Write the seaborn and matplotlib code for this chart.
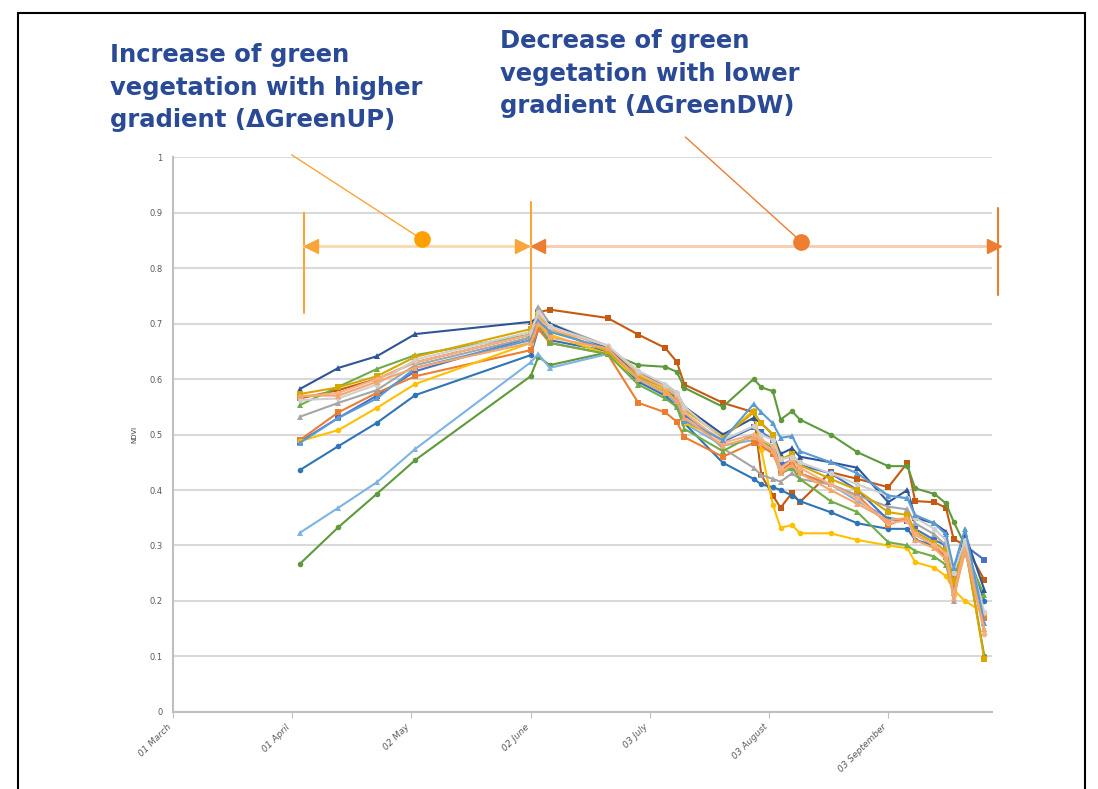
import numpy as np
import pandas as pd
import seaborn as sns
import matplotlib.pyplot as plt
import matplotlib.dates as mdates
from matplotlib.patches import Rectangle

# observation dates (shared by all series)
dates = ["2015-04-03", "2015-04-13", "2015-04-23", "2015-05-03", "2015-06-02", "2015-06-04",
         "2015-06-07", "2015-06-22", "2015-06-30", "2015-07-07", "2015-07-10", "2015-07-12",
         "2015-07-22", "2015-07-30", "2015-08-01", "2015-08-04", "2015-08-06", "2015-08-09",
         "2015-08-11", "2015-08-19", "2015-08-26", "2015-09-03", "2015-09-08", "2015-09-10",
         "2015-09-15", "2015-09-18", "2015-09-20", "2015-09-23", "2015-09-28"]

# NDVI per field
brown = [0.565, 0.58, 0.60, 0.63, 0.68, 0.72, 0.725, 0.71, 0.68, 0.656, 0.631, 0.59, 0.557, 0.54, 0.427,
         0.39, 0.368, 0.395, 0.378, 0.432, 0.42, 0.405, 0.449, 0.38, 0.378, 0.368, 0.312, 0.30, 0.238]
green_late = [0.267, 0.333, 0.393, 0.454, 0.605, 0.64, 0.625, 0.648, 0.625, 0.622, 0.613, 0.584, 0.55, 0.60, 0.585,
              0.578, 0.527, 0.542, 0.527, 0.50, 0.468, 0.443, 0.443, 0.403, 0.393, 0.376, 0.343, 0.30, 0.10]
lightblue = [0.323, 0.368, 0.414, 0.474, 0.63, 0.645, 0.62, 0.645, 0.60, 0.575, 0.555, 0.52, 0.48, 0.49, 0.475,
             0.47, 0.43, 0.44, 0.43, 0.41, 0.38, 0.35, 0.345, 0.32, 0.30, 0.28, 0.22, 0.29, 0.15]
medblue = [0.436, 0.479, 0.521, 0.571, 0.643, 0.69, 0.67, 0.65, 0.595, 0.57, 0.55, 0.52, 0.449, 0.42, 0.41,
           0.405, 0.40, 0.39, 0.38, 0.36, 0.34, 0.33, 0.33, 0.31, 0.30, 0.28, 0.23, 0.30, 0.20]
bluesq = [0.487, 0.53, 0.57, 0.614, 0.675, 0.70, 0.69, 0.65, 0.60, 0.58, 0.565, 0.535, 0.487, 0.513, 0.505,
          0.49, 0.445, 0.454, 0.445, 0.43, 0.40, 0.346, 0.345, 0.33, 0.31, 0.30, 0.26, 0.30, 0.274]
orange = [0.49, 0.54, 0.575, 0.605, 0.652, 0.69, 0.665, 0.645, 0.557, 0.54, 0.523, 0.495, 0.46, 0.485, 0.48,
          0.465, 0.435, 0.45, 0.43, 0.41, 0.39, 0.337, 0.35, 0.32, 0.30, 0.28, 0.23, 0.29, 0.17]
yellow = [0.488, 0.508, 0.548, 0.591, 0.665, 0.70, 0.68, 0.645, 0.60, 0.58, 0.56, 0.52, 0.494, 0.544, 0.472,
          0.373, 0.332, 0.337, 0.322, 0.322, 0.31, 0.30, 0.295, 0.27, 0.26, 0.245, 0.22, 0.20, 0.178]
gray = [0.532, 0.557, 0.58, 0.625, 0.675, 0.73, 0.70, 0.66, 0.603, 0.585, 0.57, 0.54, 0.475, 0.44, 0.427,
        0.42, 0.415, 0.43, 0.42, 0.41, 0.39, 0.37, 0.365, 0.34, 0.32, 0.30, 0.20, 0.31, 0.16]
green2 = [0.553, 0.586, 0.618, 0.643, 0.68, 0.70, 0.665, 0.645, 0.59, 0.565, 0.55, 0.51, 0.47, 0.50, 0.49,
          0.475, 0.43, 0.44, 0.42, 0.38, 0.36, 0.306, 0.30, 0.29, 0.28, 0.265, 0.215, 0.29, 0.21]
darkblue = [0.582, 0.62, 0.641, 0.681, 0.703, 0.71, 0.70, 0.655, 0.61, 0.59, 0.575, 0.55, 0.50, 0.53, 0.52,
            0.50, 0.465, 0.475, 0.46, 0.45, 0.44, 0.378, 0.40, 0.35, 0.34, 0.325, 0.24, 0.32, 0.22]
gold = [0.573, 0.585, 0.605, 0.64, 0.69, 0.715, 0.69, 0.65, 0.605, 0.585, 0.57, 0.545, 0.494, 0.54, 0.52,
        0.50, 0.455, 0.465, 0.445, 0.42, 0.40, 0.36, 0.355, 0.325, 0.305, 0.29, 0.235, 0.30, 0.095]
pink = [0.568, 0.575, 0.60, 0.63, 0.68, 0.71, 0.69, 0.66, 0.61, 0.585, 0.57, 0.54, 0.485, 0.50, 0.49,
        0.48, 0.44, 0.455, 0.44, 0.41, 0.385, 0.34, 0.345, 0.32, 0.30, 0.285, 0.21, 0.30, 0.14]
lightgray = [0.562, 0.565, 0.59, 0.635, 0.685, 0.72, 0.695, 0.66, 0.615, 0.59, 0.575, 0.55, 0.49, 0.515, 0.50,
             0.49, 0.455, 0.46, 0.45, 0.43, 0.41, 0.39, 0.385, 0.35, 0.33, 0.31, 0.25, 0.31, 0.18]
skyblue = [0.485, 0.53, 0.565, 0.62, 0.67, 0.705, 0.685, 0.655, 0.60, 0.575, 0.56, 0.525, 0.49, 0.555, 0.54,
           0.52, 0.494, 0.497, 0.47, 0.45, 0.43, 0.39, 0.385, 0.355, 0.34, 0.32, 0.26, 0.33, 0.16]
orange2 = [0.57, 0.57, 0.595, 0.62, 0.665, 0.70, 0.675, 0.655, 0.60, 0.575, 0.56, 0.53, 0.48, 0.495, 0.485,
           0.47, 0.43, 0.445, 0.43, 0.40, 0.375, 0.345, 0.35, 0.31, 0.295, 0.275, 0.205, 0.29, 0.15]

series = {"brown": brown, "green_late": green_late, "lightblue": lightblue, "medblue": medblue,
          "bluesq": bluesq, "orange": orange, "yellow": yellow, "gray": gray, "green2": green2,
          "darkblue": darkblue, "gold": gold, "pink": pink, "lightgray": lightgray,
          "skyblue": skyblue, "orange2": orange2}

colors = {"brown": "#C55A11", "green_late": "#5E9A3C", "lightblue": "#7EB3E3", "medblue": "#2E75B6",
          "bluesq": "#4472C4", "orange": "#ED7D31", "yellow": "#FFC000", "gray": "#A5A5A5",
          "green2": "#70AD47", "darkblue": "#2F5597", "gold": "#D9A800", "pink": "#F4B183",
          "lightgray": "#CFCFCF", "skyblue": "#5B9BD5", "orange2": "#F8A56A"}
markers = {"brown": "s", "green_late": "o", "lightblue": "^", "medblue": "o", "bluesq": "s",
           "orange": "s", "yellow": "o", "gray": "^", "green2": "^", "darkblue": "^",
           "gold": "s", "pink": "o", "lightgray": "o", "skyblue": "^", "orange2": "^"}

rows = []
for name, vals in series.items():
    for d, v in zip(dates, vals):
        rows.append((pd.Timestamp(d), v, name))
df = pd.DataFrame(rows, columns=["date", "ndvi", "field"])

sns.set_style("white")
fig = plt.figure(figsize=(10.98, 7.89), dpi=100)
ax = fig.add_axes([0.1576, 0.0976, 0.7459, 0.7034])

sns.lineplot(data=df, x="date", y="ndvi", hue="field", style="field", palette=colors,
             markers=markers, dashes=False, markersize=4, linewidth=1.5, legend=False,
             sort=False, ax=ax, markeredgewidth=0)

# axes cosmetics
ax.set_ylim(0, 1)
ax.set_xlim(pd.Timestamp("2015-03-01"), pd.Timestamp("2015-09-30"))
ax.set_yticks(np.arange(0, 1.01, 0.1))
ax.set_yticklabels(["0", "0.1", "0.2", "0.3", "0.4", "0.5", "0.6", "0.7", "0.8", "0.9", "1"])
ax.yaxis.grid(True, color="#D9D9D9", linewidth=1.5)
ax.set_axisbelow(True)
tick_dates = ["2015-03-01", "2015-04-01", "2015-05-02", "2015-06-02", "2015-07-03", "2015-08-03", "2015-09-03"]
tick_labels = ["01 March", "01 April", "02 May", "02 June", "03 July", "03 August", "03 September"]
ax.set_xticks([pd.Timestamp(t) for t in tick_dates])
ax.set_xticklabels(tick_labels, rotation=45, ha="right", va="top", fontsize=6.5,
                   style="italic", color="#595959")
ax.tick_params(axis="y", labelsize=6, colors="#595959", length=4, color="#BFBFBF")
ax.tick_params(axis="x", length=4, color="#BFBFBF", direction="out", bottom=True)
for s in ["top", "right"]:
    ax.spines[s].set_visible(False)
for s in ["left", "bottom"]:
    ax.spines[s].set_color("#BFBFBF")
    ax.spines[s].set_linewidth(1.5)
ax.set_xlabel("")
ax.set_ylabel("NDVI", fontsize=5, color="#404040", labelpad=9)

# annotation: green-up / green-down ranges
def day(d):
    return mdates.date2num(pd.Timestamp(d))

up_col, up_light = "#F9A53A", "#FCD9AC"
dw_col, dw_light = "#ED7D31", "#F9CBAD"
ax.plot([day("2015-04-04")] * 2, [0.719, 0.90], color=up_col, lw=1.5, clip_on=False)
ax.plot([day("2015-06-02")] * 2, [0.692, 0.919], color=up_col, lw=1.5, clip_on=False)
ax.plot([day("2015-10-01 12:00")] * 2, [0.751, 0.908], color=dw_col, lw=1.5, clip_on=False)
ax.plot([day("2015-04-04"), day("2015-06-02")], [0.84, 0.84], color=up_light, lw=2, clip_on=False)
ax.plot([day("2015-06-02"), day("2015-10-01 12:00")], [0.84, 0.84], color=dw_light, lw=2, clip_on=False)
ax.plot([day("2015-04-06")], [0.84], marker="<", color=up_col, ms=10, clip_on=False)
ax.plot([day("2015-05-30 18:00")], [0.84], marker=">", color=up_col, ms=10, clip_on=False)
ax.plot([day("2015-06-04")], [0.84], marker="<", color=dw_col, ms=10, clip_on=False)
ax.plot([day("2015-09-30 12:00")], [0.84], marker=">", color=dw_col, ms=10, clip_on=False)
ax.plot([day("2015-03-31 20:00"), day("2015-05-04 16:00")], [1.004, 0.852], color=up_col, lw=1, clip_on=False)
ax.plot([day("2015-05-04 16:00")], [0.852], marker="o", color="#FFA000", ms=11, clip_on=False)
ax.plot([day("2015-07-12 06:00"), day("2015-08-11 10:00")], [1.036, 0.847], color=dw_col, lw=1, clip_on=False)
ax.plot([day("2015-08-11 10:00")], [0.847], marker="o", color=dw_col, ms=11, clip_on=False)

title_col = "#2A4A96"
fig.text(110 / 1098, 1 - 43 / 789, "Increase of green\nvegetation with higher\ngradient (\u0394GreenUP)",
         fontsize=17.5, fontweight="bold", color=title_col, va="top", ha="left", linespacing=1.45)
fig.text(500 / 1098, 1 - 29 / 789, "Decrease of green\nvegetation with lower\ngradient (\u0394GreenDW)",
         fontsize=17.5, fontweight="bold", color=title_col, va="top", ha="left", linespacing=1.45)

# screenshot frame
fig.add_artist(Rectangle((18 / 1098, -0.02), (1085 - 18) / 1098, 1 - 13 / 789 + 0.02,
                         transform=fig.transFigure, fill=False, edgecolor="black", lw=1.5))

fig.savefig("out.png", dpi=100)
